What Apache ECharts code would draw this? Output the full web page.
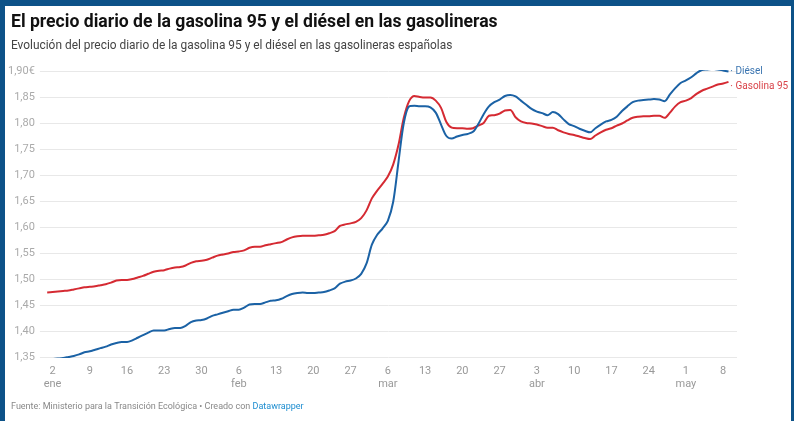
<!DOCTYPE html>
<html>
<head>
<meta charset="utf-8">
<script src="https://cdn.jsdelivr.net/npm/echarts@6/dist/echarts.min.js"></script>
<style>
html,body{margin:0;padding:0;width:794px;height:421px;overflow:hidden;background:#0d5288;}
#frame{position:absolute;left:5px;top:6px;width:786px;height:415px;background:#fff;}
#chart{width:786px;height:415px;}
</style>
</head>
<body>
<div id="frame"><div id="chart"></div></div>
<script>
// Day index 0 = 1 Jan, last = 9 May
var gasolina = [
1.474,1.475,1.476,1.477,1.478,1.480,1.482,1.484,1.485,1.486,
1.488,1.490,1.493,1.497,1.498,1.498,1.500,1.503,1.506,1.510,
1.514,1.516,1.517,1.520,1.522,1.523,1.526,1.531,1.534,1.535,
1.537,1.541,1.545,1.547,1.549,1.552,1.553,1.555,1.560,1.562,
1.562,1.565,1.567,1.569,1.571,1.576,1.580,1.582,1.583,1.583,
1.583,1.584,1.585,1.588,1.592,1.602,1.605,1.607,1.610,1.617,
1.632,1.655,1.670,1.683,1.697,1.720,1.758,1.810,1.842,1.852,
1.850,1.849,1.849,1.843,1.829,1.802,1.791,1.790,1.790,1.789,
1.790,1.795,1.800,1.814,1.815,1.818,1.824,1.825,1.811,1.803,
1.800,1.799,1.797,1.794,1.791,1.791,1.786,1.782,1.779,1.777,
1.774,1.771,1.769,1.776,1.782,1.787,1.790,1.795,1.799,1.805,
1.810,1.812,1.813,1.813,1.814,1.814,1.810,1.820,1.832,1.840,
1.843,1.848,1.856,1.862,1.866,1.870,1.874,1.876,1.879
];
var diesel = [
1.345,1.346,1.347,1.348,1.350,1.352,1.355,1.359,1.361,1.364,
1.367,1.370,1.374,1.377,1.379,1.379,1.382,1.387,1.392,1.397,
1.401,1.401,1.401,1.404,1.406,1.406,1.410,1.417,1.420,1.421,
1.424,1.429,1.432,1.435,1.438,1.441,1.441,1.445,1.451,1.452,
1.452,1.455,1.458,1.459,1.462,1.467,1.471,1.473,1.474,1.473,
1.473,1.474,1.475,1.478,1.482,1.491,1.495,1.497,1.501,1.510,
1.530,1.566,1.585,1.597,1.612,1.648,1.725,1.800,1.832,1.833,
1.832,1.832,1.830,1.820,1.797,1.775,1.770,1.774,1.777,1.779,
1.783,1.798,1.817,1.832,1.840,1.845,1.852,1.854,1.851,1.843,
1.835,1.827,1.822,1.819,1.815,1.821,1.817,1.807,1.798,1.794,
1.789,1.785,1.782,1.790,1.797,1.803,1.806,1.812,1.823,1.832,
1.840,1.843,1.844,1.845,1.846,1.845,1.842,1.855,1.867,1.877,
1.882,1.888,1.896,1.902,1.903,1.904,1.903,1.901,1.899
];
var tickDays = [1,8,15,22,29,36,43,50,57,64,71,78,85,92,99,106,113,120,127];
var tickLabels = ['2\nene','9','16','23','30','6\nfeb','13','20','27','6\nmar','13','20','27','3\nabr','10','17','24','1\nmay','8'];

function pairs(arr){ return arr.map(function(v,i){ return [i, v]; }); }

var chart = echarts.init(document.getElementById('chart'), null, {renderer:'canvas'});
var FONT = 'Roboto, "Noto Sans", sans-serif';
chart.setOption({
  animation:false,
  backgroundColor:'#fff',
  textStyle:{fontFamily:FONT},
  grid:{left:34, right:54, top:65, bottom:64, containLabel:false},
  xAxis:{
    type:'value', min:-1.37, max:129.6,
    axisLine:{show:false}, axisTick:{show:false}, splitLine:{show:false},
    axisLabel:{
      customValues:tickDays,
      color:'#999', fontSize:11, lineHeight:13, margin:8, fontFamily:FONT,
      formatter:function(v){ var i = tickDays.indexOf(Math.round(v)); return i>=0 ? tickLabels[i] : ''; }
    }
  },
  yAxis:{
    type:'value', min:1.35, max:1.90, interval:0.05,
    axisLine:{show:false}, axisTick:{show:false},
    splitLine:{lineStyle:{color:'#e8e8e8', width:1}},
    axisLabel:{
      color:'#aaa', fontSize:11, margin:5, fontFamily:FONT,
      formatter:function(v){ var s = v.toFixed(2).replace('.', ','); return v > 1.899 ? s + '€' : s; }
    }
  },
  series:[
    {
      name:'Gasolina 95', type:'line', data:pairs(gasolina), smooth:0.3, symbol:'none',
      lineStyle:{color:'#d52a32', width:2}, itemStyle:{color:'#d52a32'},
      endLabel:{show:true, formatter:'{d|•} {n|Gasolina 95}', distance:2, offset:[0,5],
        rich:{d:{fontSize:6, color:'#d9444a'}, n:{fontSize:10, color:'#d9444a', fontFamily:FONT}}}
    },
    {
      name:'Diésel', type:'line', data:pairs(diesel), smooth:0.3, symbol:'none',
      lineStyle:{color:'#1b62a5', width:2}, itemStyle:{color:'#1b62a5'},
      endLabel:{show:true, formatter:'{d|•} {n|Diésel}', distance:2, offset:[0,0],
        rich:{d:{fontSize:6, color:'#3a74b0'}, n:{fontSize:10, color:'#3a74b0', fontFamily:FONT}}}
    }
  ],
  graphic:[
    {type:'text', left:6, top:8, style:{text:'El precio diario de la gasolina 95 y el diésel en las gasolineras', font:'bold 17.6px ' + FONT, fill:'#111'}},
    {type:'text', left:6, top:34, style:{text:'Evolución del precio diario de la gasolina 95 y el diésel en las gasolineras españolas', font:'11.9px ' + FONT, fill:'#444'}},
    {type:'text', left:6, top:396, style:{
      text:'{a|Fuente: Ministerio para la Transición Ecológica • Creado con }{b|Datawrapper}',
      rich:{a:{fontSize:9, fontFamily:FONT, fill:'#888', color:'#888'}, b:{fontSize:9, fontFamily:FONT, fill:'#1d8dd0', color:'#1d8dd0'}}
    }}
  ]
});
</script>
</body>
</html>
